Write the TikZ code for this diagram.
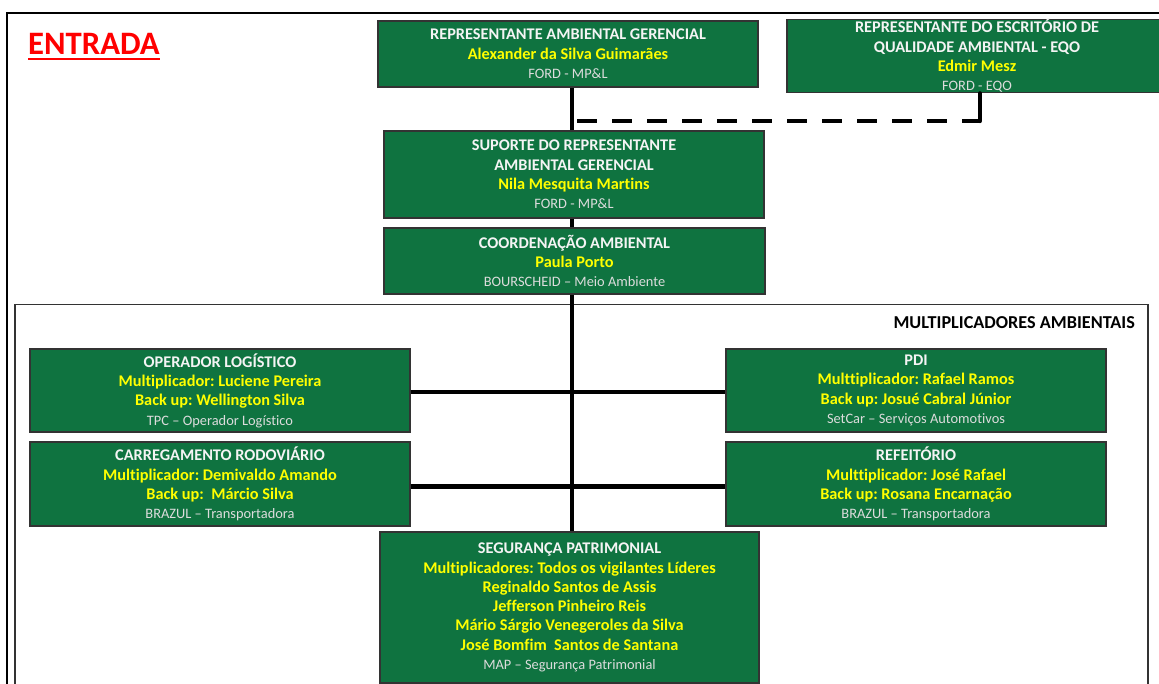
\documentclass[tikz,border=0pt]{standalone}
\usepackage{fontspec}
\setmainfont[Ligatures=NoCommon]{Carlito}
\usetikzlibrary{calc}
\definecolor{boxgreen}{HTML}{0F7340}
\definecolor{nameyellow}{HTML}{FFFF00}
\definecolor{hdwhite}{HTML}{F4F4F4}
\definecolor{cogray}{HTML}{DCDCDC}
\definecolor{titlered}{HTML}{FF0000}
\newcommand{\hdl}[1]{{\color{hdwhite}\bfseries\fontsize{16.3}{19.3}\selectfont #1}}
\newcommand{\nml}[1]{{\color{nameyellow}\bfseries\fontsize{16.3}{19.3}\selectfont #1}}
\newcommand{\col}[1]{{\color{cogray}\fontsize{14.4}{19.3}\selectfont #1}}
\frenchspacing
\begin{document}
\begin{tikzpicture}[x=1pt,y=-1pt,
  gbox/.style={rectangle, draw=black!80, line width=1.3pt, fill=boxgreen, inner sep=0pt, align=center, font=\frenchspacing\fontsize{16.3}{19.3}\selectfont},
  mainline/.style={line width=4.3pt, black},
  dashline/.style={line width=4.5pt, black, dash pattern=on 20pt off 15pt},
  frameline/.style={line width=2.5pt, black},
  innerframe/.style={line width=1.5pt, black!80}]
\useasboundingbox (0,0) rectangle (1159,684);
\clip (0,0) rectangle (1159,684);
\fill[white] (0,0) rectangle (1159,684);
% frames
\draw[frameline] (7,700) -- (7,13) -- (1170,13);
\draw[innerframe] (15,700) -- (15,304.5) -- (1148,304.5) -- (1148,700);
% title
\node[anchor=base west, inner sep=0pt, text=titlered, font=\bfseries\fontsize{32.7}{38}\selectfont] (title) at (28,55) {ENTRADA};
\draw[titlered, line width=2pt] ([yshift=-4pt]title.base west) -- ([yshift=-4pt]title.base east);
% boxes
\node[gbox, minimum width=380pt, minimum height=66pt] (b1) at (568,54) {\hdl{REPRESENTANTE AMBIENTAL GERENCIAL}\\ \nml{Alexander da Silva Guimarães}\\ \col{FORD - MP\&L}};
\node[gbox, minimum width=380pt, minimum height=72pt] (eqo) at (977,56) {\hdl{REPRESENTANTE DO ESCRITÓRIO DE}\\ \hdl{QUALIDADE AMBIENTAL - EQO}\\ \nml{Edmir Mesz}\\ \col{FORD - EQO}};
\node[gbox, minimum width=380pt, minimum height=87pt] (b3) at (574,174.5) {\hdl{SUPORTE DO REPRESENTANTE}\\ \hdl{AMBIENTAL GERENCIAL}\\ \nml{Nila Mesquita Martins}\\ \col{FORD - MP\&L}};
\node[gbox, minimum width=381pt, minimum height=66pt] (b4) at (574.5,261) {\hdl{COORDENAÇÃO AMBIENTAL}\\ \nml{Paula Porto}\\ \col{BOURSCHEID – Meio Ambiente}};
\node[anchor=east, inner sep=0pt, font=\bfseries\fontsize{18.2}{22}\selectfont] (mult) at (1135,323) {MULTIPLICADORES AMBIENTAIS};
\node[gbox, minimum width=380pt, minimum height=83pt] (op) at (220,390.5) {\hdl{OPERADOR LOGÍSTICO}\\ \nml{Multiplicador: Luciene Pereira}\\ \nml{Back up: Wellington Silva}\\ \col{TPC – Operador Logístico}};
\node[gbox, minimum width=380pt, minimum height=83pt] (pdi) at (916,390.5) {\hdl{PDI}\\ \nml{Multtiplicador: Rafael Ramos}\\ \nml{Back up: Josué Cabral Júnior}\\ \col{SetCar – Serviços Automotivos}};
\node[gbox, minimum width=380pt, minimum height=84pt] (car) at (220,484) {\hdl{CARREGAMENTO RODOVIÁRIO}\\ \nml{Multiplicador: Demivaldo Amando}\\ \nml{Back up:\ \ Márcio Silva}\\ \col{BRAZUL – Transportadora}};
\node[gbox, minimum width=380pt, minimum height=84pt] (ref) at (916,484) {\hdl{REFEITÓRIO}\\ \nml{Multtiplicador: José Rafael}\\ \nml{Back up: Rosana Encarnação}\\ \col{BRAZUL – Transportadora}};
\node[gbox, minimum width=379pt, minimum height=151pt] (seg) at (569.5,607.5) {\hdl{SEGURANÇA PATRIMONIAL}\\ \nml{Multiplicadores: Todos os vigilantes Líderes}\\ \nml{Reginaldo Santos de Assis}\\ \nml{Jefferson Pinheiro Reis}\\ \nml{Mário Sárgio Venegeroles da Silva}\\ \nml{José Bomfim\ \ Santos de Santana}\\ \col{MAP – Segurança Patrimonial}};
% connectors
\coordinate (spine) at (572,0);
\coordinate (dj) at (980,121);
\draw[mainline] (b1.south -| spine) -- (b3.north -| spine);
\draw[mainline] (b3.south -| spine) -- (b4.north -| spine);
\draw[mainline] (b4.south -| spine) -- (seg.north -| spine);
\draw[mainline] ([yshift=-1.5pt]op.east) -- ([yshift=-1.5pt]pdi.west);
\draw[mainline] ([yshift=-2.5pt]car.east) -- ([yshift=-2.5pt]ref.west);
\draw[dashline] ($(spine |- dj)+(5,0)$) -- (dj);
\draw[line width=4.3pt, line cap=round] (eqo.south -| dj) -- (dj);
\end{tikzpicture}
\end{document}
